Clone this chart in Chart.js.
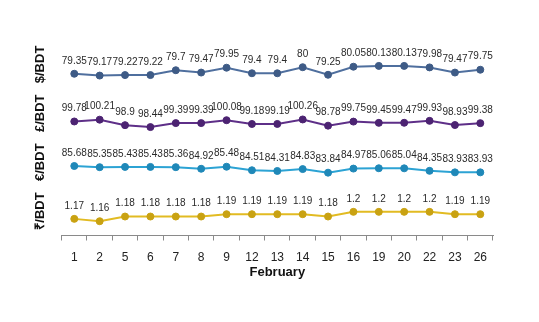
<!DOCTYPE html>
<html>
<head>
<meta charset="utf-8">
<script src="https://cdn.jsdelivr.net/npm/chart.js@4"></script>
<style>
  html, body { margin: 0; padding: 0; background: #fff; }
  #wrap { width: 539px; height: 322px; }
</style>
</head>
<body>
<div id="wrap"><canvas id="rates"></canvas></div>
<script>
// Days of February
const days = ['1', '2', '5', '6', '7', '8', '9', '12', '13', '14', '15', '16', '19', '20', '22', '23', '26'];

// Exchange rates per currency
const usdBdt = [79.35, 79.17, 79.22, 79.22, 79.7, 79.47, 79.95, 79.4, 79.4, 80, 79.25, 80.05, 80.13, 80.13, 79.98, 79.47, 79.75];
const gbpBdt = [99.78, 100.21, 98.9, 98.44, 99.39, 99.39, 100.08, 99.18, 99.19, 100.26, 98.78, 99.75, 99.45, 99.47, 99.93, 98.93, 99.38];
const eurBdt = [85.68, 85.35, 85.43, 85.43, 85.36, 84.92, 85.48, 84.51, 84.31, 84.83, 83.84, 84.97, 85.06, 85.04, 84.35, 83.93, 83.93];
const inrBdt = [1.17, 1.16, 1.18, 1.18, 1.18, 1.18, 1.19, 1.19, 1.19, 1.19, 1.18, 1.2, 1.2, 1.2, 1.2, 1.19, 1.19];

// Write each value above its point
const valueLabels = {
  id: 'valueLabels',
  afterDatasetsDraw(chart) {
    const ctx = chart.ctx;
    ctx.save();
    ctx.font = '10px Arial, "Liberation Sans", sans-serif';
    ctx.fillStyle = '#2a2a2a';
    ctx.textAlign = 'center';
    ctx.textBaseline = 'middle';
    chart.data.datasets.forEach((ds, i) => {
      chart.getDatasetMeta(i).data.forEach((pt, j) => {
        ctx.fillText(String(ds.data[j]), pt.x, pt.y - 13);
      });
    });
    ctx.restore();
  }
};

function series(data, axis, line, dot) {
  return {
    data: data,
    yAxisID: axis,
    borderColor: line,
    backgroundColor: dot,
    pointBackgroundColor: dot,
    pointBorderColor: dot,
    pointRadius: 3.5,
    pointBorderWidth: 1,
    borderWidth: 2,
    tension: 0
  };
}

function panelAxis(title, min, max, weight) {
  return {
    stack: 'rates',
    position: 'left',
    weight: weight,
    min: min,
    max: max,
    ticks: { display: false },
    grid: { display: false, drawTicks: false },
    border: { display: false },
    title: {
      display: true,
      text: title,
      color: '#111',
      font: { family: 'Arial, "Liberation Sans", sans-serif', size: 13, weight: 'bold' },
      padding: { top: 4, bottom: 13 }
    }
  };
}

new Chart(document.getElementById('rates'), {
  type: 'line',
  data: {
    labels: days,
    datasets: [
      series(usdBdt, 'yUsd', '#4f6f9e', '#3e5b86'),
      series(gbpBdt, 'yGbp', '#5e2f88', '#4c2372'),
      series(eurBdt, 'yEur', '#2ca3d4', '#1f88b8'),
      series(inrBdt, 'yInr', '#e2bb22', '#c9a212')
    ]
  },
  options: {
    responsive: true,
    maintainAspectRatio: false,
    animation: false,
    layout: { padding: { left: 29, right: 46, top: 40, bottom: 37.5 } },
    plugins: { legend: { display: false }, tooltip: { enabled: false } },
    scales: {
      x: {
        offset: true,
        grid: { display: true, offset: true, drawOnChartArea: false, tickLength: 5, color: '#8a8a8a' },
        border: { display: true, color: '#8a8a8a' },
        ticks: {
          color: '#222',
          padding: 10,
          font: { family: 'Arial, "Liberation Sans", sans-serif', size: 12 }
        },
        title: {
          display: true,
          text: 'February',
          color: '#111',
          font: { family: 'Arial, "Liberation Sans", sans-serif', size: 13, weight: 'bold' },
          padding: { top: -10, bottom: 4 }
        }
      },
      yUsd: panelAxis('$/BDT', 77.85, 82.7, 4),
      yGbp: panelAxis('£/BDT', 95.89, 107.57, 3),
      yEur: panelAxis('€/BDT', 80.0, 93.46, 2),
      yInr: panelAxis('₹/BDT', 1.099, 1.3077, 1)
    }
  },
  plugins: [valueLabels]
});
</script>
</body>
</html>
